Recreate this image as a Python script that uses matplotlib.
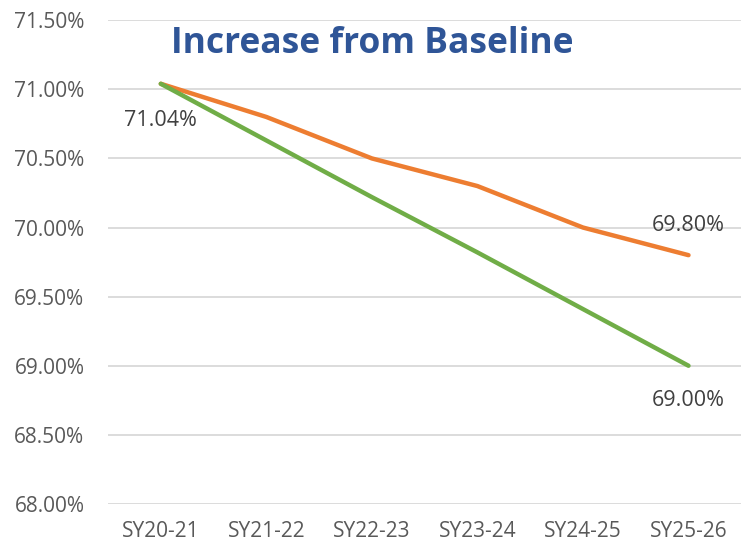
import matplotlib.pyplot as plt
import numpy as np

years = ["SY20-21", "SY21-22", "SY22-23", "SY23-24", "SY24-25", "SY25-26"]
orange_vals = [71.04, 70.80, 70.50, 70.30, 70.00, 69.80]
green_vals = [71.04, 70.63, 70.22, 69.82, 69.41, 69.00]

plt.rcParams["font.family"] = ["Open Sans", "DejaVu Sans"]

fig = plt.figure(figsize=(7.45, 5.46), dpi=100)
ax = fig.add_axes([0.145, 0.077, 0.85, 0.886])

x = np.arange(len(years))
ax.plot(x, orange_vals, color="#ED7D31", lw=3.2, solid_capstyle="round", zorder=3)
ax.plot(x, green_vals, color="#70AD47", lw=3.2, solid_capstyle="round", zorder=3)

ax.set_xlim(-0.5, len(years) - 0.5)
ax.set_ylim(68.0, 71.5)
ax.set_yticks(np.arange(68.0, 71.51, 0.5))
ax.set_yticklabels([f"{v:.2f}%" for v in np.arange(68.0, 71.51, 0.5)])
ax.set_xticks(x)
ax.set_xticklabels(years)
ax.tick_params(length=0, colors="#595959")
ax.tick_params(axis="x", labelsize=15, pad=12)
ax.tick_params(axis="y", labelsize=15, pad=17)
ax.grid(axis="y", color="#D9D9D9", lw=1.3)
ax.set_axisbelow(True)
for s in ax.spines.values():
    s.set_visible(False)

# data labels
lab_kw = dict(ha="center", va="center", fontsize=15.5, color="#404040")
ax.annotate(f"{green_vals[0]:.2f}%", (x[0], green_vals[0]), xytext=(0, -37),
            textcoords="offset pixels", **lab_kw)
ax.annotate(f"{orange_vals[-1]:.2f}%", (x[-1], orange_vals[-1]), xytext=(0, 30),
            textcoords="offset pixels", **lab_kw)
ax.annotate(f"{green_vals[-1]:.2f}%", (x[-1], green_vals[-1]), xytext=(0, -35),
            textcoords="offset pixels", **lab_kw)

fig.text(0.5, 0.92, "Increase from Baseline", ha="center", va="center",
         fontsize=25.5, fontweight="bold", color="#2F5597")

fig.savefig("out.png", dpi=100)
